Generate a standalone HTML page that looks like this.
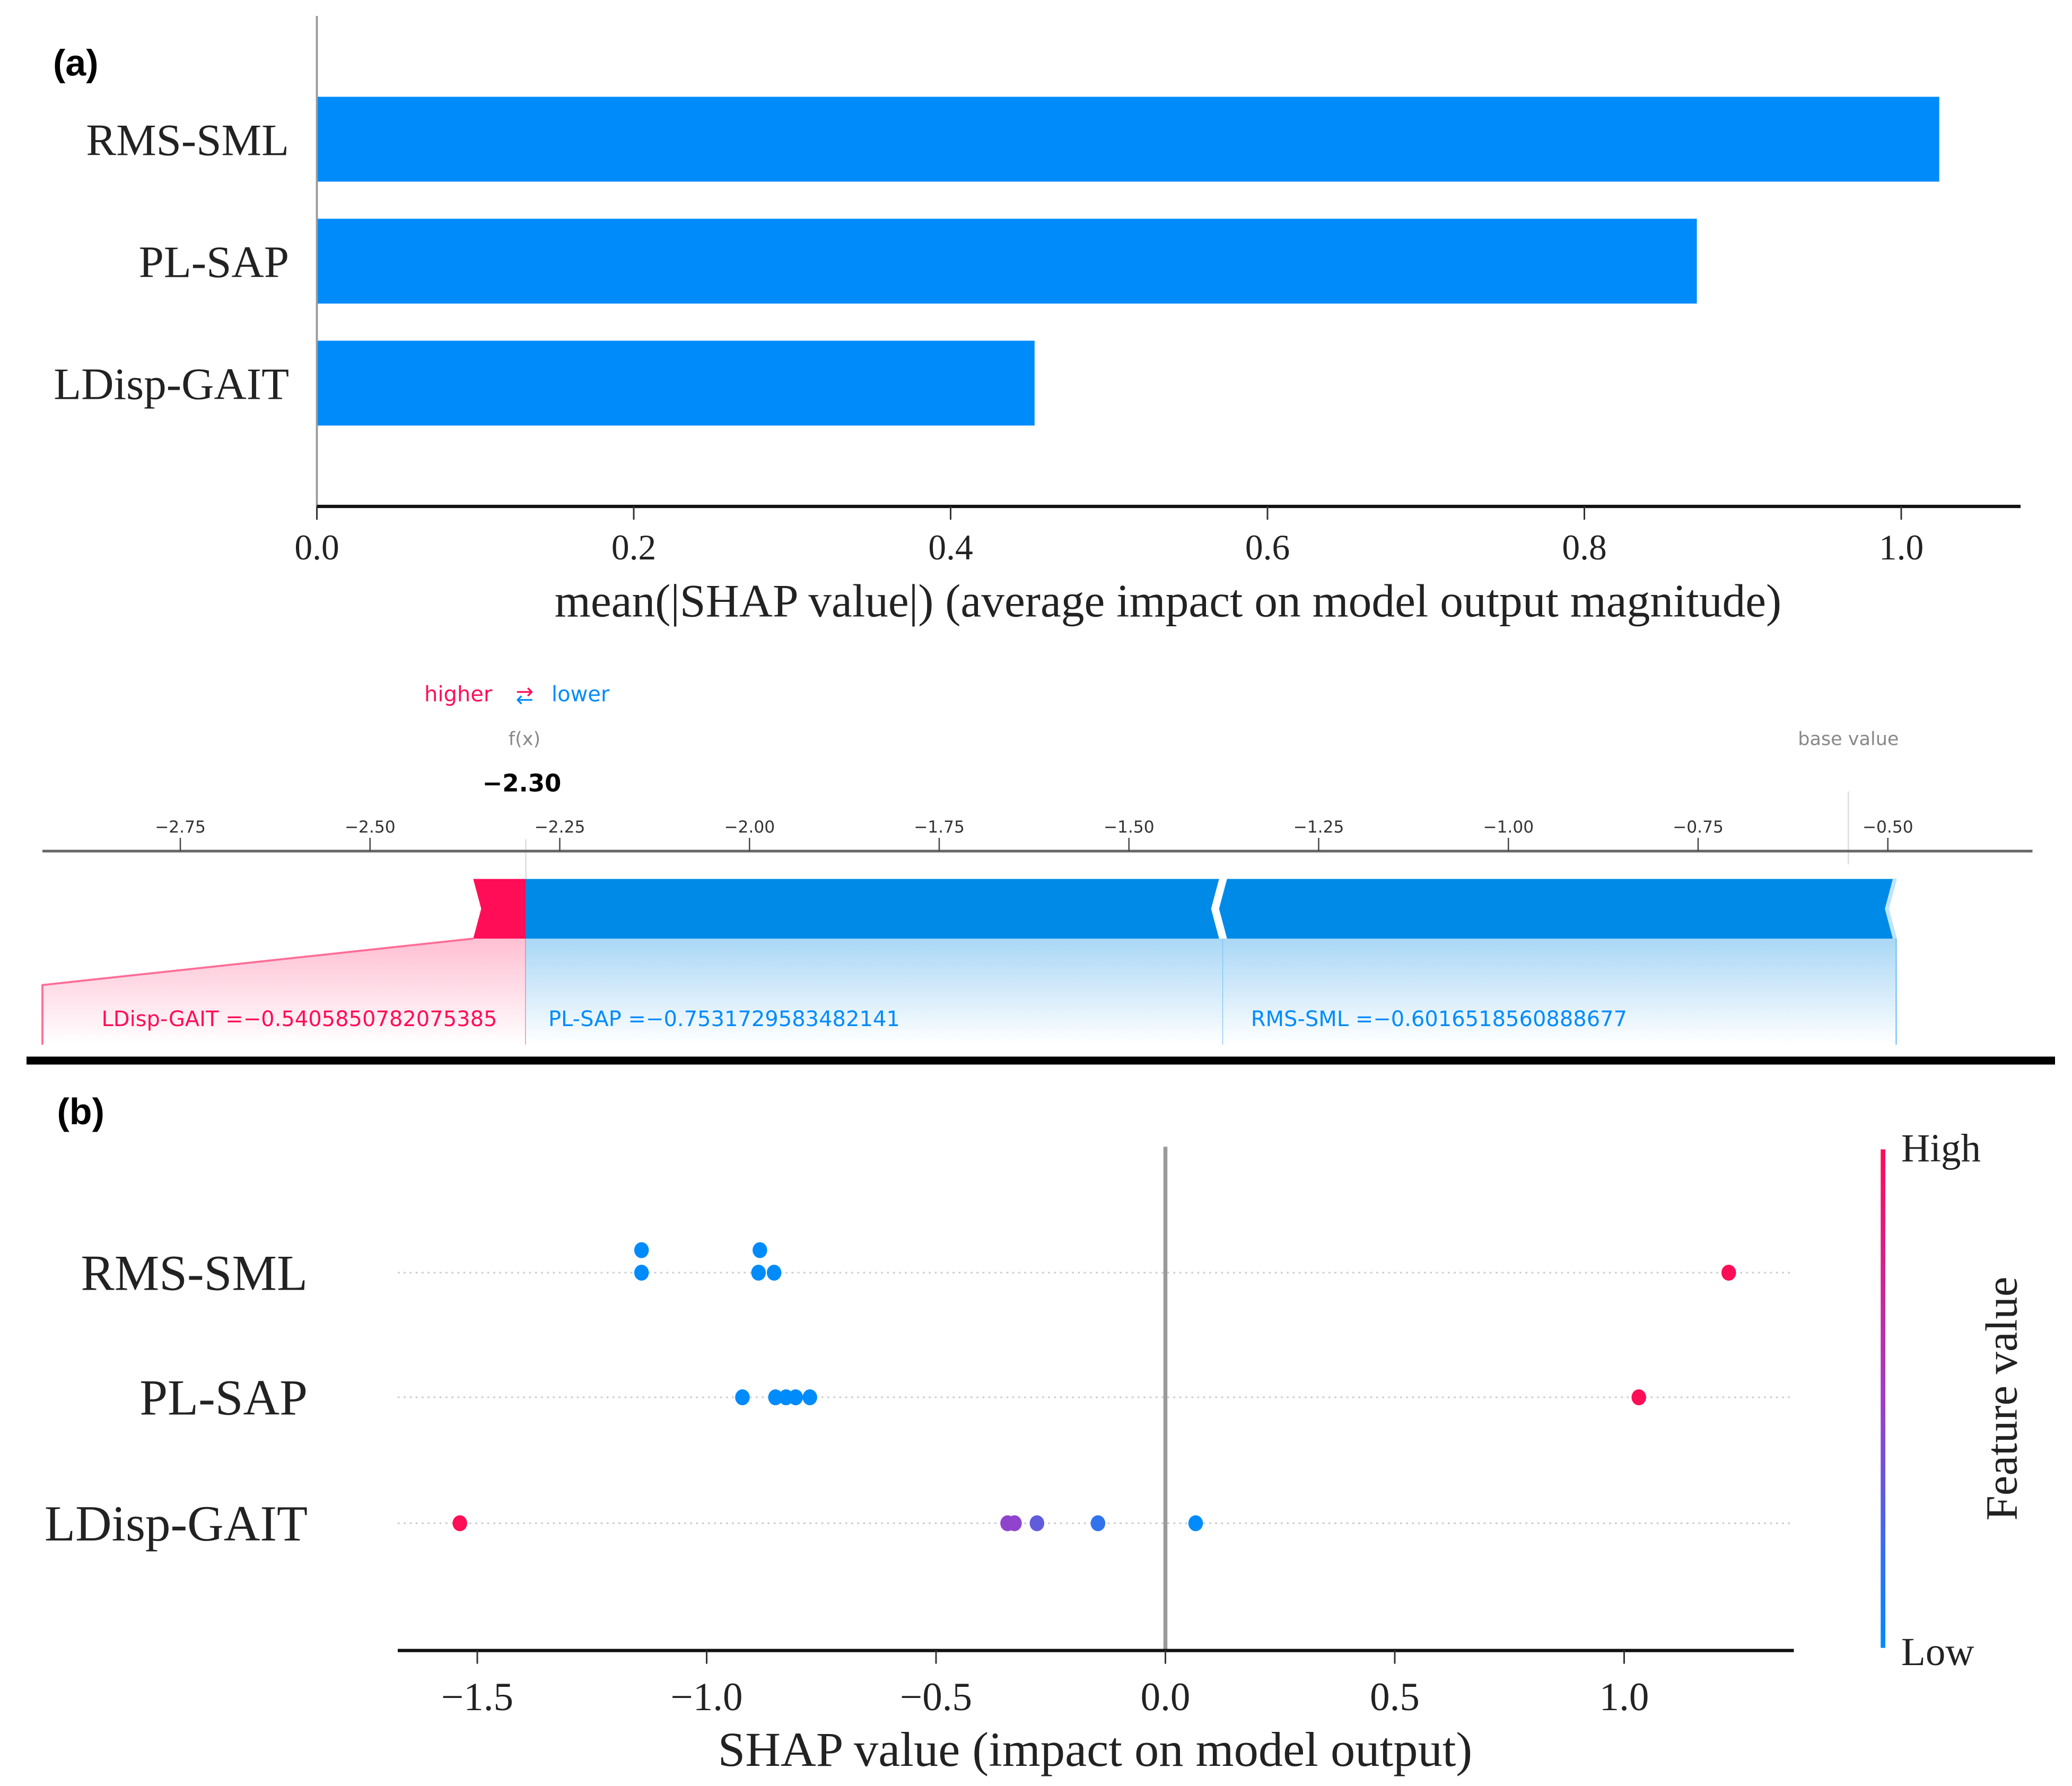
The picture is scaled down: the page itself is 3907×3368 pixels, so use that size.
<!DOCTYPE html>
<html><head><meta charset="utf-8"><style>
html,body{margin:0;padding:0;background:#fff;}
svg{display:block;}
.t{font-family:"Liberation Serif",serif;fill:#222;}
.s{font-family:"DejaVu Sans","Liberation Sans",sans-serif;}
</style></head><body>
<svg id="fig" width="3907" height="3368" viewBox="0 0 1562.8 1347.2" xmlns="http://www.w3.org/2000/svg">
<defs>
<linearGradient id="gb" x1="0" y1="0" x2="0" y2="1"><stop offset="0" stop-color="#a9d7f5"/><stop offset="1" stop-color="#ffffff"/></linearGradient>
<linearGradient id="gr" x1="0" y1="0" x2="0" y2="1"><stop offset="0" stop-color="#ffbfd3"/><stop offset="1" stop-color="#ffffff"/></linearGradient>
<linearGradient id="cb" x1="0" y1="0" x2="0" y2="1"><stop offset="0" stop-color="#ff0d57"/><stop offset="0.5" stop-color="#a03cc8"/><stop offset="0.8" stop-color="#3a6cf0"/><stop offset="1" stop-color="#008bfb"/></linearGradient>
</defs>
<g id="pa"></g>
<g id="pf"></g>
<rect x="20" y="797" width="1530" height="6" fill="#000"/>
<g id="pb"></g>
</svg>
<script>
// Panel a data
const barFeatures = ["RMS-SML","PL-SAP","LDisp-GAIT"];
const barValues = [1.024, 0.871, 0.453];
const barTicks = [0,0.2,0.4,0.6,0.8,1.0];
const barTickLabels = ["0.0","0.2","0.4","0.6","0.8","1.0"];
// Force plot data
const forceTicks = [-2.75,-2.5,-2.25,-2.0,-1.75,-1.5,-1.25,-1.0,-0.75,-0.5];
const forceTickLabels = ["\u22122.75","\u22122.50","\u22122.25","\u22122.00","\u22121.75","\u22121.50","\u22121.25","\u22121.00","\u22120.75","\u22120.50"];
const fxValue = -2.30;
const baseValue = -0.552;
const forceSegStarts = [-2.364, -2.30, -1.376];
const forceSegEnds = [-2.30, -1.376, -0.489];
const forceLabels = ["LDisp-GAIT =\u22120.5405850782075385","PL-SAP =\u22120.7531729583482141","RMS-SML =\u22120.6016518560888677"];
// Panel b data
const swarmFeatures = ["RMS-SML","PL-SAP","LDisp-GAIT"];
const swarmValues = [
 [-1.142,-0.884,-1.142,-0.887,-0.853,1.228],
 [-0.922,-0.850,-0.827,-0.806,-0.775,1.032],
 [-1.538,-0.344,-0.329,-0.280,-0.147,0.066]];
const swarmLevel = [[1,1,0,0,0,0],[0,0,0,0,0,0],[0,0,0,0,0,0]];
const swarmFeat = [[0,0,0,0,0,1],[0,0,0,0,0,1],[1,0.45,0.45,0.3,0.15,0]];
const swarmTicks = [-1.5,-1.0,-0.5,0,0.5,1.0];
const swarmTickLabels = ["\u22121.5","\u22121.0","\u22120.5","0.0","0.5","1.0"];

const NS="http://www.w3.org/2000/svg";
function mk(p,tag,at,txt){const e=document.createElementNS(NS,tag);for(const k in at)e.setAttribute(k,at[k]);if(txt!==undefined)e.textContent=txt;p.appendChild(e);return e;}

// ---- Panel a
const pa=document.getElementById('pa');
const ax=v=>239+v*1195;
const barTop=[73,165,257];
let e=mk(pa,'text',{x:40,y:57,'font-family':'Liberation Sans,sans-serif','font-weight':'bold','font-size':28},'(a)');

barValues.forEach((v,i)=>{
 let r=mk(pa,'rect',{x:ax(0),y:barTop[i],width:ax(v)-ax(0),height:64,fill:'#008bfb'});
 
 
 let t=mk(pa,'text',{x:218,y:barTop[i]+44,'text-anchor':'end','font-size':34,class:'t'},barFeatures[i]);
 
 
});
e=mk(pa,'line',{x1:239,y1:12,x2:239,y2:382,stroke:'#999',['stroke-width']:1.5});

e=mk(pa,'line',{x1:239,y1:382,x2:1524,y2:382,stroke:'#111','stroke-width':2.5});

barTicks.forEach((v,i)=>{
 mk(pa,'line',{x1:ax(v),y1:382,x2:ax(v),y2:392,stroke:'#333','stroke-width':1.2});
 let t=mk(pa,'text',{x:ax(v),y:422,'text-anchor':'middle','font-size':27,class:'t'},barTickLabels[i]);
 
 
});
e=mk(pa,'text',{x:881,y:465,'text-anchor':'middle','font-size':35,class:'t'},'mean(|SHAP value|) (average impact on model output magnitude)');


// ---- Force plot
const pf=document.getElementById('pf');
const fx=v=>136+(v+2.75)*572.4;
e=mk(pf,'text',{x:320,y:529,'font-size':16,fill:'#ff0d57',class:'s'},'higher');

e=mk(pf,'text',{x:389,y:527,'font-size':16,fill:'#ff0d57',class:'s'},'\u2192');
e=mk(pf,'text',{x:389,y:533,'font-size':16,fill:'#008bfb',class:'s'},'\u2190');
e=mk(pf,'text',{x:416,y:529,'font-size':16,fill:'#008bfb',class:'s'},'lower');

e=mk(pf,'text',{x:fx(fxValue)+2,y:562,'text-anchor':'middle','font-size':14,fill:'#888',class:'s'},'f(x)');

e=mk(pf,'text',{x:fx(fxValue),y:597,'text-anchor':'middle','font-size':18,'font-weight':'bold',fill:'#000',class:'s'},'\u22122.30');

e=mk(pf,'text',{x:fx(baseValue),y:562,'text-anchor':'middle','font-size':14,fill:'#888',class:'s'},'base value');

mk(pf,'line',{x1:fx(baseValue),y1:597,x2:fx(baseValue),y2:652,stroke:'#ddd','stroke-width':1});
mk(pf,'line',{x1:fx(fxValue)+3,y1:633,x2:fx(fxValue)+3,y2:708,stroke:'#ddd','stroke-width':1});
e=mk(pf,'line',{x1:32,y1:642,x2:1533,y2:642,stroke:'#666','stroke-width':2});

forceTicks.forEach((v,i)=>{
 mk(pf,'line',{x1:fx(v),y1:632,x2:fx(v),y2:642,stroke:'#444','stroke-width':1});
 let t=mk(pf,'text',{x:fx(v),y:628,'text-anchor':'middle','font-size':12.5,fill:'#333',class:'s'},forceTickLabels[i]);
 
 
});
// red segment
{const a=fx(forceSegStarts[0]),b=fx(forceSegEnds[0])+3;
 let p=mk(pf,'polygon',{points:`32,743 ${a},708 ${b},708 ${b},788 32,788`,fill:'url(#gr)'});
 mk(pf,'polyline',{points:`32,788 32,743 ${a},708`,fill:'none',stroke:'#ff6d97','stroke-width':1.5});
 mk(pf,'line',{x1:b,y1:708,x2:b,y2:788,stroke:'#ff6d97','stroke-width':1});
 let r=mk(pf,'polygon',{points:`${a},663 ${b},663 ${b},708 ${a},708 ${a+6},685.5`,fill:'#ff0d57'});
 
 
 let t=mk(pf,'text',{x:375,y:774,'text-anchor':'end','font-size':16,fill:'#ff0d57',class:'s'},forceLabels[0]);
 
 
}
[1,2].forEach(i=>{
 const a=fx(forceSegStarts[i])+(i==1?3:0),b=fx(forceSegEnds[i]);
 mk(pf,'rect',{x:a,y:708,width:b-a,height:80,fill:'url(#gb)'});
 mk(pf,'line',{x1:b,y1:708,x2:b,y2:788,stroke:'#7cc4f5','stroke-width':1});
 const pts=i==1?`${a},663 ${b-3},663 ${b-9},685.5 ${b-3},708 ${a},708`:`${a+3},663 ${b},663 ${b-6},685.5 ${b},708 ${a+3},708 ${a-3},685.5`;
 let r=mk(pf,'polygon',{points:pts,fill:'#008ae8'});
 
 
 let t=mk(pf,'text',{x:a+(i==1?17:21),y:774,'font-size':16,fill:'#008bfb',class:'s'},forceLabels[i]);
 
 
});
mk(pf,'polyline',{points:`${fx(-0.489)-1},663 ${fx(-0.489)-7},685.5 ${fx(-0.489)-1},708`,fill:'none',stroke:'#bfe3fb','stroke-width':3});

// ---- Panel b
const pb=document.getElementById('pb');
const bx=v=>879+v*346;
const rowY=[960,1054,1149];
e=mk(pb,'text',{x:43,y:848,'font-family':'Liberation Sans,sans-serif','font-weight':'bold','font-size':28},'(b)');

function col(f){const c0=[0,139,251],c1=[255,13,87],m=[160,60,200];let c;if(f<0.5){const t=f/0.5;c=c0.map((v,k)=>v+(m[k]-v)*t);}else{const t=(f-0.5)/0.5;c=m.map((v,k)=>v+(c1[k]-v)*t);}return `rgb(${c.map(Math.round).join(',')})`;}
swarmFeatures.forEach((f,i)=>{
 let l=mk(pb,'line',{x1:300,y1:rowY[i],x2:1353,y2:rowY[i],stroke:'#ccc','stroke-width':1.2,'stroke-dasharray':'1.5 3'});
 
 
 let t=mk(pb,'text',{x:232,y:rowY[i]+13,'text-anchor':'end','font-size':38,class:'t'},f);
 
 
});
e=mk(pb,'line',{x1:bx(0),y1:865,x2:bx(0),y2:1245,stroke:'#999','stroke-width':3});

swarmValues.forEach((row,i)=>row.forEach((v,j)=>{
 let c=mk(pb,'ellipse',{cx:bx(v),cy:rowY[i]-17*swarmLevel[i][j],rx:5.5,ry:6,fill:col(swarmFeat[i][j])});
 
 
}));
e=mk(pb,'line',{x1:300,y1:1245,x2:1353,y2:1245,stroke:'#111','stroke-width':2.5});

swarmTicks.forEach((v,i)=>{
 mk(pb,'line',{x1:bx(v),y1:1245,x2:bx(v),y2:1255,stroke:'#333','stroke-width':1.2});
 let t=mk(pb,'text',{x:bx(v),y:1290,'text-anchor':'middle','font-size':30,class:'t'},swarmTickLabels[i]);
 
 
});
e=mk(pb,'text',{x:826,y:1332,'text-anchor':'middle','font-size':37,class:'t'},'SHAP value (impact on model output)');

e=mk(pb,'rect',{x:1418.5,y:867,width:3.5,height:376,fill:'url(#cb)'});

e=mk(pb,'text',{x:1434,y:876,'font-size':30,class:'t'},'High');

e=mk(pb,'text',{x:1434,y:1256,'font-size':30,class:'t'},'Low');

e=mk(pb,'text',{x:1521,y:1055,'text-anchor':'middle','font-size':34,class:'t',transform:'rotate(-90 1521 1055)'},'Feature value');

</script>
</body></html>
